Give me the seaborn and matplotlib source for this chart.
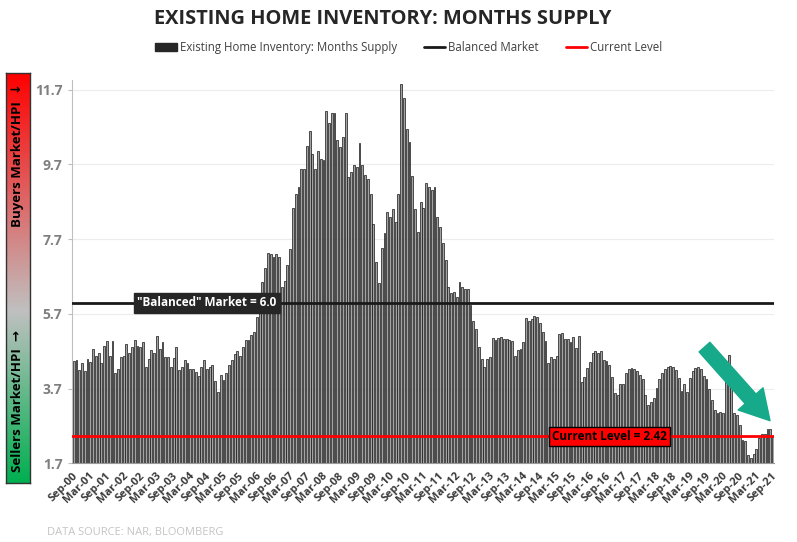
import numpy as np
import pandas as pd
import matplotlib
matplotlib.use("Agg")
import matplotlib.pyplot as plt
from matplotlib.colors import LinearSegmentedColormap
from matplotlib.patches import Patch
from matplotlib.lines import Line2D
import seaborn as sns

# monthly months-supply readings, Sep-2000 .. Sep-2021
START = "2000-09-01"
months_supply = [
    4.44, 4.46, 4.21, 4.38, 4.17, 4.49, 4.40, 4.75, 4.58, 4.66, 4.39, 4.84,
    4.98, 4.58, 4.97, 4.12, 4.23, 4.55, 4.58, 4.89, 4.64, 4.82, 5.01, 4.84,
    4.80, 4.94, 4.28, 4.50, 4.72, 4.66, 5.10, 4.75, 4.94, 4.55, 4.55, 4.28,
    4.51, 4.82, 4.20, 4.28, 4.46, 4.38, 4.23, 4.22, 4.15, 4.04, 4.27, 4.46,
    4.22, 4.29, 4.34, 3.89, 3.62, 4.06, 3.93, 4.11, 4.33, 4.46, 4.62, 4.71,
    4.57, 4.82, 5.00, 5.00, 5.13, 5.22, 5.62, 5.85, 6.56, 6.92, 7.32, 7.30,
    7.23, 7.29, 7.23, 6.43, 6.59, 7.01, 7.43, 8.52, 8.91, 9.09, 9.57, 9.57,
    10.19, 10.60, 9.98, 9.59, 10.06, 9.84, 9.83, 11.13, 10.82, 11.08, 11.07, 10.35,
    10.17, 10.44, 11.07, 9.37, 9.50, 9.68, 9.62, 10.26, 9.68, 9.41, 9.30, 8.91,
    8.10, 7.09, 6.52, 7.47, 7.87, 8.42, 8.28, 8.51, 8.15, 8.92, 11.85, 11.49,
    10.66, 10.31, 9.40, 8.50, 7.90, 8.69, 8.54, 9.21, 9.09, 9.01, 9.10, 8.30,
    8.03, 7.59, 7.14, 6.41, 6.25, 6.29, 6.14, 6.54, 6.43, 6.36, 6.36, 5.95,
    5.52, 5.29, 4.82, 4.48, 4.27, 4.48, 4.55, 5.06, 5.00, 5.06, 5.09, 5.04,
    5.04, 5.00, 4.98, 4.57, 4.73, 4.76, 4.94, 5.58, 5.52, 5.55, 5.64, 5.61,
    5.46, 5.22, 4.98, 4.38, 4.54, 4.49, 4.58, 5.15, 5.20, 5.03, 5.04, 4.95,
    5.07, 4.78, 5.11, 3.88, 4.00, 4.26, 4.40, 4.66, 4.71, 4.64, 4.71, 4.46,
    4.44, 4.33, 4.00, 3.57, 3.53, 3.81, 3.82, 4.11, 4.22, 4.24, 4.22, 4.17,
    4.06, 3.95, 3.53, 3.26, 3.35, 3.44, 3.71, 3.95, 4.12, 4.22, 4.29, 4.31,
    4.29, 4.20, 3.99, 3.64, 3.82, 3.62, 3.99, 4.18, 4.26, 4.29, 4.22, 4.04,
    3.95, 3.68, 3.39, 3.13, 3.04, 3.06, 3.04, 3.97, 4.61, 3.75, 3.04, 3.00,
    2.73, 2.33, 2.31, 1.91, 1.84, 1.95, 2.08, 2.37, 2.49, 2.49, 2.61, 2.61,
    2.42,
]
BALANCED = 6.0
CURRENT = 2.42
Y_TICKS = [1.7, 3.7, 5.7, 7.7, 9.7, 11.7]

dates = pd.date_range(START, periods=len(months_supply), freq="MS")
df = pd.DataFrame({"idx": np.arange(len(months_supply)), "supply": months_supply})

sns.set_style("white")
plt.rcParams["font.family"] = ["Open Sans", "DejaVu Sans"]

fig = plt.figure(figsize=(7.97, 5.42), dpi=100)
ax = fig.add_axes([0.0907, 0.1452, 0.881, 0.7066])

sns.barplot(data=df, x="idx", y="supply", color="#a3a3a3", edgecolor="#141414",
            linewidth=0.5, width=0.68, saturation=1, ax=ax)

ax.set_ylim(1.7, 11.95)
ax.set_xlim(-0.5, len(months_supply) - 0.5)
ax.set_yticks(Y_TICKS)
ax.set_yticklabels([f"{v:.1f}" for v in Y_TICKS], fontweight="bold", color="#7f7f7f", fontsize=10)
ax.yaxis.grid(True, color="#ececec", lw=0.8)
ax.set_axisbelow(True)

tick_pos = np.arange(0, len(months_supply), 6)
ax.set_xticks(tick_pos - 0.5)
ax.set_xticklabels([dates[i].strftime("%b-%y") for i in tick_pos], rotation=45,
                   ha="right", rotation_mode="anchor", fontsize=8, fontweight="bold",
                   color="#3a3a3a")
ax.tick_params(axis="x", length=3, color="#9a9a9a", pad=2)
ax.tick_params(axis="y", length=3, color="#bfbfbf", pad=4, left=True)
ax.set_xlabel(""); ax.set_ylabel("")
for s in ["top", "right"]:
    ax.spines[s].set_visible(False)
ax.spines["left"].set_color("#bfbfbf")
ax.spines["bottom"].set_color("#9a9a9a")

ax.axhline(BALANCED, color="#1a1a1a", lw=2, zorder=4)
ax.axhline(CURRENT, color="#ff0000", lw=2, zorder=4)

ax.text(48, BALANCED, '"Balanced" Market = 6.0', ha="center", va="center",
        color="white", fontweight="bold", fontsize=8.5, zorder=6,
        bbox=dict(boxstyle="square,pad=0.3", fc="#262626", ec="#262626"))
ax.text(193, CURRENT, "Current Level = 2.42", ha="center", va="center",
        color="black", fontweight="bold", fontsize=8.5, zorder=6,
        bbox=dict(boxstyle="square,pad=0.25", fc="#ff0000", ec="black", lw=1))

ax.annotate("", xy=(250.9, 2.84), xytext=(227.3, 4.81), zorder=7,
            arrowprops=dict(arrowstyle="simple,head_length=1.05,head_width=1.2,tail_width=0.52",
                            color="#16a98a", mutation_scale=20, shrinkA=0, shrinkB=0,
                            capstyle="round", joinstyle="round"))

fig.text(0.48, 0.965, "EXISTING HOME INVENTORY: MONTHS SUPPLY", ha="center", va="center",
         fontsize=14.4, fontweight="bold", color="#262626")

handles = [Patch(facecolor="#262626", edgecolor="#262626"),
           Line2D([], [], color="#1a1a1a", lw=2),
           Line2D([], [], color="#ff0000", lw=2)]
fig.legend(handles, ["Existing Home Inventory: Months Supply", "Balanced Market", "Current Level"],
           loc="center", bbox_to_anchor=(0.513, 0.913), ncol=3, frameon=False,
           fontsize=8.3, handlelength=1.9, handletextpad=0.25, columnspacing=2.3,
           labelcolor="#404040")

fig.text(0.059, 0.017, "DATA SOURCE: NAR, BLOOMBERG", fontsize=8, color="#c4c4c4",
         ha="left", va="center")

# sellers / buyers gradient strip
gax = fig.add_axes([6 / 797, 1 - 483 / 542, 24 / 797, 410 / 542])
grad_cmap = LinearSegmentedColormap.from_list(
    "mkt", [(0.0, "#00b050"), (0.42, "#c0c0c0"), (1.0, "#ff0000")])
gax.imshow(np.linspace(0, 1, 256).reshape(-1, 1), aspect="auto", cmap=grad_cmap,
           origin="lower", extent=(0, 1, 0, 1))
gax.set_xticks([]); gax.set_yticks([])
for s in gax.spines.values():
    s.set_color("#333333"); s.set_linewidth(1)
gax.text(0.5, 0.80, "Buyers Market/HPI  \u2193", rotation=90, ha="center", va="center",
         fontsize=9.5, fontweight="bold", color="black", transform=gax.transAxes)
gax.text(0.5, 0.20, "Sellers Market/HPI  \u2192", rotation=90, ha="center", va="center",
         fontsize=9.5, fontweight="bold", color="black", transform=gax.transAxes)

fig.savefig("out.png", dpi=100)
